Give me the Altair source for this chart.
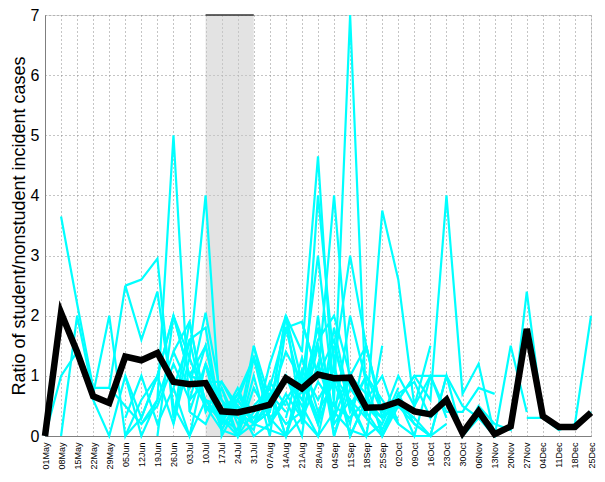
import altair as alt
import pandas as pd

dates = ["01May", "08May", "15May", "22May", "29May", "05Jun", "12Jun", "19Jun",
         "26Jun", "03Jul", "10Jul", "17Jul", "24Jul", "31Jul", "07Aug", "14Aug",
         "21Aug", "28Aug", "04Sep", "11Sep", "18Sep", "25Sep", "02Oct", "09Oct",
         "16Oct", "23Oct", "30Oct", "06Nov", "13Nov", "20Nov", "27Nov", "04Dec",
         "11Dec", "18Dec", "25Dec"]

mean_ratio = [0.0, 2.05, 1.4, 0.66, 0.55, 1.32, 1.26, 1.38, 0.9, 0.86, 0.88, 0.41,
              0.39, 0.45, 0.52, 0.96, 0.79, 1.02, 0.96, 0.97, 0.47, 0.48, 0.57,
              0.41, 0.36, 0.6, 0.05, 0.41, 0.03, 0.16, 1.78, 0.33, 0.15, 0.15, 0.39]

# individual series: (first week index, values)
s01 = (1, [3.65, 2.2, 0.8, 0.8, 2.5, 1.6, 2.4, 0.5, 0.0, 0.6, 0.2, 0.4])
s02 = (0, [0, 1.0, 1.4, 0.6, 0.0, 1.0, 0.3, 1.0, 2.0, 1.0, 0.5, 0.3, 0.8, 0.2])
s03 = (1, [0, 2.0, 0.7, 2.0, 0.0, 0.6, 1.0, 0.2, 1.6, 0.4, 0.9, 0.5])
s04 = (5, [2.5, 2.6, 2.95, 0.3, 1.9, 0.5, 0.1, 0.6])
s05 = (4, [0.8, 0.5, 0.2, 0.6, 5.0, 0.4, 1.2, 0.3, 0.6, 0.2, 0.9, 0.5])
s06 = (5, [0.0, 0.3, 1.0, 2.0, 1.3, 4.0, 0.0, 0.5, 0.3, 0.7, 0.4])
s07 = (5, [1.0, 0.0, 0.6, 1.4, 0.8, 2.05, 0.6, 0.3, 0.1, 1.2, 2.0, 1.4, 4.65, 0.5, 0.3, 0.6])
s08 = (5, [0.3, 1.0, 0.2, 0.8, 1.6, 1.8, 0.2, 0.7, 0.4, 0.8, 1.8, 1.9, 1.0, 4.0, 0.8, 0.4])
s09 = (6, [0.2, 0.5, 1.2, 0.6, 1.5, 0.3, 0.1, 1.5, 0.6, 1.4, 0.9, 3.0, 0.6, 7.0, 0.5, 0.2, 0.8])
s10 = (7, [0.0, 2.0, 1.0, 0.9, 0.9, 0.4, 0.2, 0.4, 2.0, 0.2, 4.0, 1.2, 3.0, 1.5, 0.4, 0.3])
s11 = (8, [0.2, 1.3, 0.6, 0.5, 0.6, 1.3, 0.5, 1.0, 0.6, 1.6, 2.0, 1.0, 0.3, 3.75, 2.6, 0.5, 1.0, 0.3])
s12 = (8, [0.8, 0.0, 1.2, 0.1, 0.0, 0.8, 0.3, 0.6, 0.0, 2.0, 0.0, 1.0, 1.5, 0.3, 1.0, 0.5, 1.5])
s13 = (9, [0.4, 0.2, 0.8, 0.0, 1.0, 0.0, 1.8, 0.7, 1.8, 0.3, 2.0, 0.9, 0.0, 0.6, 1.0, 0.6, 4.0, 0.7, 1.2, 0.0])
s14 = (9, [1.0, 1.5, 0.3, 0.5, 0.0, 0.2, 0.6, 1.0, 0.3, 1.5, 0.5, 1.0, 0.4, 0.6, 0.0, 1.0, 1.0, 0.5, 0.3])
s15 = (8, [1.4, 1.9, 0.5, 0.3, 0.0, 0.4, 0.8, 0.0, 1.0, 0.2, 1.0, 0.6, 0.3, 0.0, 0.7, 0.2, 0.0, 1.0])
s16 = (9, [0.6, 0.9, 0.1, 0.6, 0.2, 0.5, 1.0, 0.5, 0.0, 1.2, 0.0, 0.6, 1.0, 0.2])
s17 = (10, [1.2, 0.6, 0.0, 1.3, 0.2, 0.7, 0.3, 1.5, 0.0, 0.8, 0.4, 0.0, 0.5, 0.3])
s18 = (10, [0.6, 0.3, 0.7, 0.2, 0.4, 2.0, 0.9, 0.2, 1.8, 0.5, 0.0, 0.2])
s19 = (11, [0.8, 0.2, 0.5, 0.8, 0.0, 1.1, 0.6, 1.1, 0.0, 0.6, 0.3, 0.6, 1.0, 1.0, 0.4, 0.4, 0.8, 0.7])
s20 = (13, [0.2, 0.6, 0.2, 0.4, 1.2, 0.3, 1.0, 0.7, 0.1, 0.7, 0.9, 0.3, 0.6, 0.0, 0.3, 0.0, 1.5, 0.4])
s21 = (15, [0.3, 1.3, 0.4, 0.9, 0.2, 1.5, 0.4, 0.5, 0.3, 0.0, 0.2])
s22 = (20, [0.5, 0.3, 0.5, 0.2, 0.0, 1.0, 0.0, 0.5, 0.2, 0.1, 2.4, 0.3, 0.1, 0.2, 2.0])
s23 = (13, [1.5, 0.3, 0.0, 0.8, 1.5, 0.2, 0.6, 0.0, 1.5])
s24 = (11, [0.4, 0.7, 1.3, 0.5, 1.0, 0.3, 0.9, 0.5, 1.0])
s25 = (30, [0.3, 0.3, 0.15, 0.15, 0.4])
s26 = (16, [1.9, 1.0, 1.6, 0.4, 1.0, 0.6, 0.2, 0.0, 0.0])
s27 = (12, [0.0, 0.2, 0.1, 0.0, 0.3, 0.0, 0.4, 0.1, 0.0])

series = [s01, s02, s03, s04, s05, s06, s07, s08, s09, s10, s11, s12, s13, s14,
          s15, s16, s17, s18, s19, s20, s21, s22, s23, s24, s25, s26, s27]

rows = []
for k, (start, vals) in enumerate(series):
    for i, v in enumerate(vals):
        rows.append({"series": f"s{k}", "week": start + i, "value": v})
df = pd.DataFrame(rows)
mean_df = pd.DataFrame({"week": list(range(len(dates))), "value": mean_ratio})
shade_df = pd.DataFrame({"start": [10], "end": [13], "low": [0], "high": [7]})

FONT = "Liberation Sans"
W, H = 546, 421

label_expr = "[" + ",".join(f"'{d}'" for d in dates) + "][datum.value]"

x_scale = alt.Scale(domain=[0, len(dates) - 1], nice=False, zero=False)
y_scale = alt.Scale(domain=[0, 7], nice=False)

x_axis = alt.Axis(values=list(range(len(dates))), labelExpr=label_expr,
                  labelAngle=270, labelFontSize=9, labelFont=FONT,
                  labelColor="black", labelPadding=6, ticks=False,
                  grid=True, gridDash=[1, 3], gridColor="#8a8a8a",
                  domainColor="#7f7f7f", title=None, labelOverlap=False,
                  labelFlush=False, labelBound=False)
y_axis = alt.Axis(values=list(range(8)), format="d", labelFontSize=16, labelFont=FONT,
                  labelColor="black", labelPadding=6, ticks=False,
                  grid=True, gridDash=[1, 3], gridColor="#8a8a8a",
                  domainColor="#7f7f7f", labelFlush=False, labelOverlap=False,
                  title="Ratio of student/nonstudent incident cases",
                  titleFont=FONT, titleFontSize=18, titleFontWeight="normal",
                  titleColor="black", titlePadding=2)


def xenc(field):
    return alt.X(field, scale=x_scale, axis=x_axis)


def yenc(field):
    return alt.Y(field, scale=y_scale, axis=y_axis)


shade = alt.Chart(shade_df).mark_rect(color="#c8c8c8", opacity=0.5).encode(
    x=xenc("start:Q"), x2="end:Q", y=yenc("low:Q"), y2="high:Q",
)
shade_top = alt.Chart(shade_df).mark_rule(color="#333333", strokeWidth=1.5).encode(
    x=xenc("start:Q"), x2="end:Q", y=yenc("high:Q"),
)
cyan = alt.Chart(df).mark_line(color="#00ffff", strokeWidth=2.2, strokeJoin="miter").encode(
    x=xenc("week:Q"), y=yenc("value:Q"), detail="series:N",
)
black = alt.Chart(mean_df).mark_line(color="black", strokeWidth=6.5, strokeJoin="miter").encode(
    x=xenc("week:Q"), y=yenc("value:Q"),
)

chart = alt.layer(shade, shade_top, cyan, black).properties(
    width=W, height=H,
    autosize=alt.AutoSizeParams(type="none"),
    padding={"left": 37, "top": 7, "right": 6, "bottom": 38},
).configure_view(stroke=None).configure(background="white")

chart.save("out.html", embed_options={"renderer": "svg", "actions": False})
